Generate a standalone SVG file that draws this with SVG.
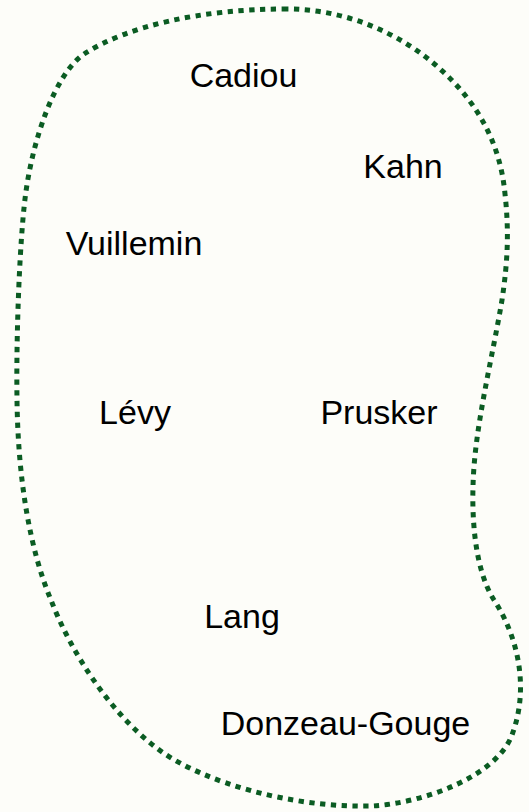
<svg xmlns="http://www.w3.org/2000/svg" width="529" height="812" viewBox="0 0 529 812">
<style>
.bg{fill:#fdfdf9}
.blob{fill:none;stroke:#0b5c23;stroke-width:5;stroke-dasharray:5.3 5.5}
.lbl{font-family:"Liberation Sans",Arial,sans-serif;font-size:34px;fill:#000;text-anchor:middle}
</style>
<rect class="bg" x="0" y="0" width="529" height="812"/>
<g id="connectors">
<path id="boundary" class="blob" d="M287,9 C200,9 128,26 84,54 C55,74 32,140 25,199 C20,240 16,330 17,400 C18,480 30,550 51,600 C70,650 110,715 162,752 C205,782 290,808 372,806 C425,803 500,775 513,732 C528,690 520,640 494,600 C475,570 472,520 473,487 C474,430 492,360 502,300 C508,260 509,230 505,194 C500,140 475,100 439,68 C400,33 345,9 287,9 Z"/>
</g>
<g id="Cadiou"><text class="lbl" x="243.5" y="87">Cadiou</text></g>
<g id="Kahn"><text class="lbl" x="403" y="178">Kahn</text></g>
<g id="Vuillemin"><text class="lbl" x="134" y="255">Vuillemin</text></g>
<g id="Levy"><text class="lbl" x="135" y="424">Lévy</text></g>
<g id="Prusker"><text class="lbl" x="379" y="424">Prusker</text></g>
<g id="Lang"><text class="lbl" x="242" y="628">Lang</text></g>
<g id="Donzeau-Gouge"><text class="lbl" x="345.5" y="735">Donzeau-Gouge</text></g>
</svg>
